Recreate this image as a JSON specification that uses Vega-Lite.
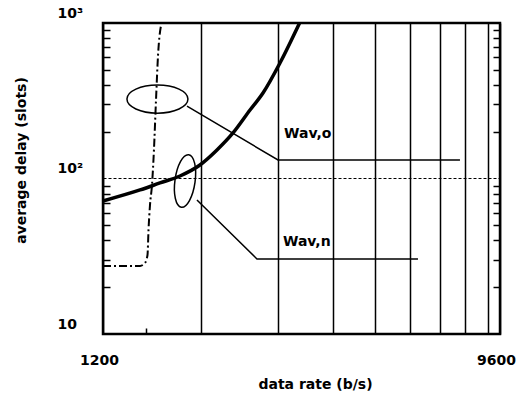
{
  "$schema": "https://vega.github.io/schema/vega-lite/v6.json",
  "width": 397,
  "height": 311,
  "autosize": "none",
  "padding": {"left": 103, "top": 23, "right": 27, "bottom": 61},
  "background": "white",
  "config": {
    "view": {"stroke": "black", "strokeWidth": 2.5},
    "font": "DejaVu Sans"
  },
  "datasets": {
    "curves": [
      {"series": "Wav,n", "rate": 1200, "delay": 71.7},
      {"series": "Wav,n", "rate": 1457, "delay": 84.4},
      {"series": "Wav,n", "rate": 1617, "delay": 93.6},
      {"series": "Wav,n", "rate": 1796, "delay": 103.8},
      {"series": "Wav,n", "rate": 1994, "delay": 122.1},
      {"series": "Wav,n", "rate": 2180, "delay": 152.5},
      {"series": "Wav,n", "rate": 2371, "delay": 196.2},
      {"series": "Wav,n", "rate": 2592, "delay": 275.7},
      {"series": "Wav,n", "rate": 2774, "delay": 354.6},
      {"series": "Wav,n", "rate": 3032, "delay": 553},
      {"series": "Wav,n", "rate": 3360, "delay": 1000},
      {"series": "Wav,o", "rate": 1200, "delay": 27.4},
      {"series": "Wav,o", "rate": 1457, "delay": 27.4},
      {"series": "Wav,o", "rate": 1495, "delay": 28.6},
      {"series": "Wav,o", "rate": 1515, "delay": 32.2},
      {"series": "Wav,o", "rate": 1523, "delay": 46.6},
      {"series": "Wav,o", "rate": 1535, "delay": 67.6},
      {"series": "Wav,o", "rate": 1551, "delay": 90.8},
      {"series": "Wav,o", "rate": 1567, "delay": 152.5},
      {"series": "Wav,o", "rate": 1584, "delay": 320},
      {"series": "Wav,o", "rate": 1601, "delay": 622},
      {"series": "Wav,o", "rate": 1630, "delay": 1000}
    ],
    "leaders": [
      {"seg": "o", "k": 1, "rate": 1863, "delay": 292},
      {"seg": "o", "k": 2, "rate": 3001, "delay": 131.5},
      {"seg": "o", "k": 3, "rate": 7784, "delay": 131.5},
      {"seg": "n", "k": 1, "rate": 1963, "delay": 72.7},
      {"seg": "n", "k": 2, "rate": 2688, "delay": 30.4},
      {"seg": "n", "k": 3, "rate": 6247, "delay": 30.4}
    ],
    "ellipses": [
      {"name": "Wav,o", "rate": 1596, "delay": 324},
      {"name": "Wav,n", "rate": 1844, "delay": 96.4}
    ],
    "labels": [
      {"name": "Wav,o", "rate": 3097, "delay": 182},
      {"name": "Wav,n", "rate": 3080, "delay": 36.8}
    ]
  },
  "resolve": {"axis": {"x": "independent", "y": "independent"}},
  "layer": [
    {
      "data": {"name": "curves"},
      "transform": [{"filter": "datum.series == 'Wav,n'"}],
      "mark": {"type": "line", "color": "black", "strokeWidth": 3.5, "interpolate": "monotone"},
      "encoding": {
        "x": {
          "field": "rate", "type": "quantitative",
          "scale": {"type": "log", "domain": [1200, 9600], "nice": false},
          "axis": {
            "values": [1200, 2000, 3000, 4000, 5000, 6000, 7000, 8000, 9000, 9600],
            "labelExpr": "datum.value == 1200 ? '1200' : (datum.value == 9600 ? '9600' : '')",
            "grid": true, "gridColor": "black", "gridWidth": 1.5, "gridOpacity": 1,
            "ticks": false, "domain": false,
            "labelFont": "DejaVu Sans", "labelFontWeight": "bold", "labelFontSize": 14, "labelColor": "black",
            "labelPadding": 19, "labelOffset": -4, "labelFlush": false, "labelOverlap": false, "labelBaseline": "top",
            "title": "data rate (b/s)",
            "titleFont": "DejaVu Sans", "titleFontWeight": "bold", "titleFontSize": 14, "titleColor": "black",
            "titleX": 212, "titleY": 50, "titleBaseline": "middle", "titleAlign": "center"
          }
        },
        "y": {
          "field": "delay", "type": "quantitative",
          "scale": {"type": "log", "domain": [10, 1000], "nice": false},
          "axis": {
            "orient": "left",
            "values": [10, 100, 1000],
            "labelExpr": "datum.value == 10 ? '10' : (datum.value == 100 ? '10²' : '10³')",
            "grid": true, "gridColor": "black", "gridDash": [3, 2], "gridWidth": 1, "gridOpacity": 1,
            "ticks": false, "domain": false,
            "labelFont": "DejaVu Sans", "labelFontWeight": "bold", "labelFontSize": 14, "labelColor": "black",
            "labelAlign": "left", "labelBaseline": "middle", "labelPadding": 46, "labelOffset": -10,
            "labelOverlap": false, "labelFlush": false,
            "title": "average delay (slots)",
            "titleFont": "DejaVu Sans", "titleFontWeight": "bold", "titleFontSize": 14, "titleColor": "black",
            "titleAngle": -90, "titleX": -82, "titleY": 137, "titleBaseline": "middle", "titleAlign": "center"
          }
        }
      }
    },
    {
      "data": {"name": "curves"},
      "transform": [{"filter": "datum.series == 'Wav,o'"}],
      "mark": {"type": "line", "color": "black", "strokeWidth": 2, "strokeDash": [8, 3, 2, 3], "interpolate": "monotone"},
      "encoding": {
        "x": {"field": "rate", "type": "quantitative", "scale": {"type": "log", "domain": [1200, 9600], "nice": false}, "axis": null},
        "y": {
          "field": "delay", "type": "quantitative",
          "scale": {"type": "log", "domain": [10, 1000], "nice": false},
          "axis": {
            "orient": "left",
            "values": [20, 30, 40, 50, 60, 70, 80, 90, 200, 300, 400, 500, 600, 700, 800, 900],
            "labels": false, "domain": false, "grid": false,
            "ticks": true, "tickSize": 7, "tickWidth": 1.5, "tickColor": "black",
            "offset": -7, "title": null
          }
        }
      }
    },
    {
      "data": {"name": "leaders"},
      "mark": {"type": "line", "color": "black", "strokeWidth": 1.5},
      "encoding": {
        "x": {
          "field": "rate", "type": "quantitative",
          "scale": {"type": "log", "domain": [1200, 9600], "nice": false},
          "axis": {
            "orient": "bottom", "values": [1500],
            "labels": false, "domain": false, "grid": false,
            "ticks": true, "tickSize": 6, "tickWidth": 1.5, "tickColor": "black",
            "offset": -6, "title": null
          }
        },
        "y": {
          "field": "delay", "type": "quantitative",
          "scale": {"type": "log", "domain": [10, 1000], "nice": false},
          "axis": {
            "orient": "right",
            "values": [20, 30, 40, 50, 60, 70, 80, 90, 200, 300, 400, 500, 600, 700, 800, 900],
            "labels": false, "domain": false, "grid": false,
            "ticks": true, "tickSize": 7, "tickWidth": 1.5, "tickColor": "black",
            "offset": -7, "title": null
          }
        },
        "detail": {"field": "seg"},
        "order": {"field": "k"}
      }
    },
    {
      "data": {"name": "ellipses"},
      "transform": [{"filter": "datum.name == 'Wav,o'"}],
      "mark": {"type": "point", "filled": false, "stroke": "black", "strokeWidth": 1.5, "opacity": 1,
               "shape": "M-1,0A1,0.46,0,1,1,1,0A1,0.46,0,1,1,-1,0Z", "size": 3721},
      "encoding": {
        "x": {"field": "rate", "type": "quantitative", "scale": {"type": "log", "domain": [1200, 9600], "nice": false}, "axis": null},
        "y": {"field": "delay", "type": "quantitative", "scale": {"type": "log", "domain": [10, 1000], "nice": false}, "axis": null}
      }
    },
    {
      "data": {"name": "ellipses"},
      "transform": [{"filter": "datum.name == 'Wav,n'"}],
      "mark": {"type": "point", "filled": false, "stroke": "black", "strokeWidth": 1.5, "opacity": 1,
               "shape": "M0,-1A0.38,1,0,1,1,0,1A0.38,1,0,1,1,0,-1Z", "size": 2809, "angle": 8},
      "encoding": {
        "x": {"field": "rate", "type": "quantitative", "scale": {"type": "log", "domain": [1200, 9600], "nice": false}, "axis": null},
        "y": {"field": "delay", "type": "quantitative", "scale": {"type": "log", "domain": [10, 1000], "nice": false}, "axis": null}
      }
    },
    {
      "data": {"name": "labels"},
      "mark": {"type": "text", "align": "left", "baseline": "alphabetic", "font": "DejaVu Sans", "fontWeight": "bold", "fontSize": 14, "color": "black"},
      "encoding": {
        "x": {"field": "rate", "type": "quantitative", "scale": {"type": "log", "domain": [1200, 9600], "nice": false}, "axis": null},
        "y": {"field": "delay", "type": "quantitative", "scale": {"type": "log", "domain": [10, 1000], "nice": false}, "axis": null},
        "text": {"field": "name"}
      }
    }
  ]
}
